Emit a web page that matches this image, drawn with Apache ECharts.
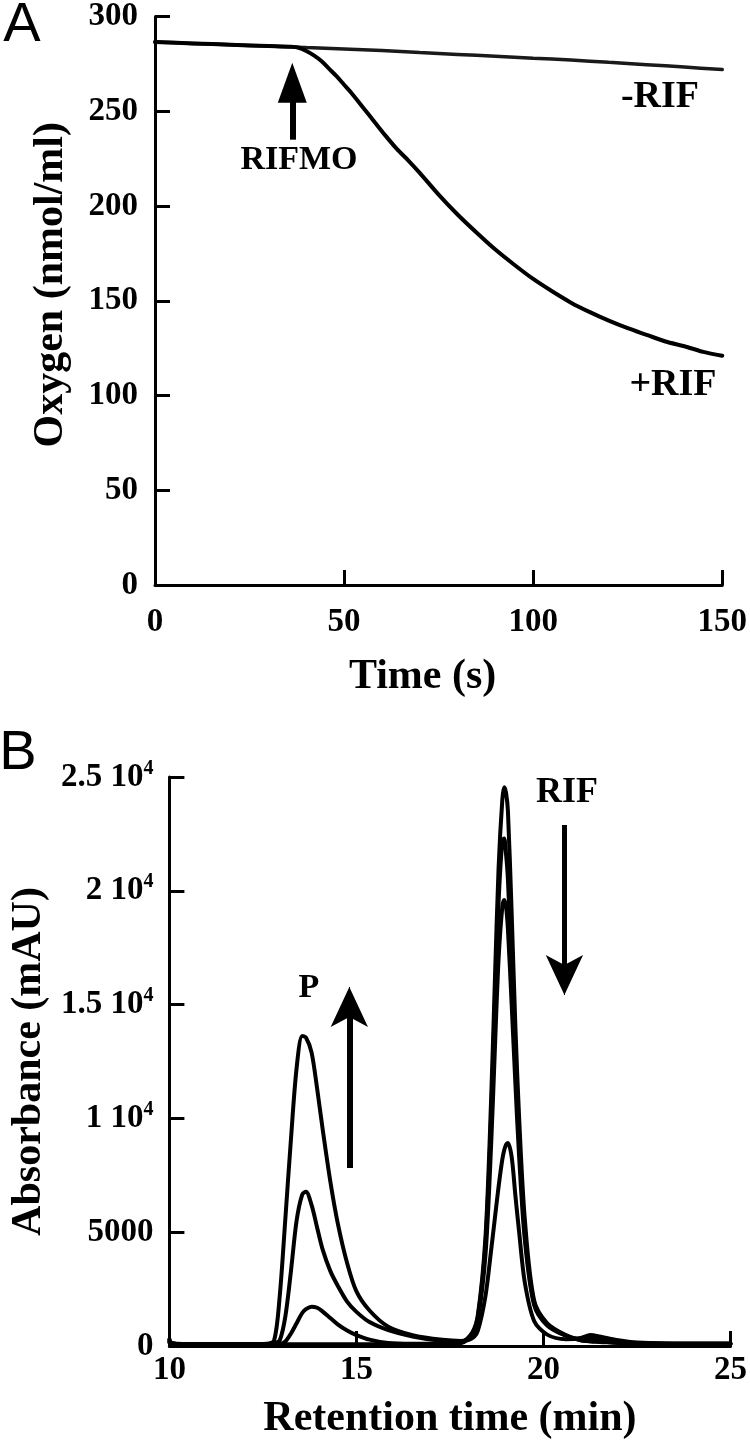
<!DOCTYPE html>
<html>
<head>
<meta charset="utf-8">
<script src="https://cdn.jsdelivr.net/npm/echarts@6/dist/echarts.min.js"></script>
<style>
  html, body { margin: 0; padding: 0; background: #fff; }
  #chart { width: 750px; height: 1449px; }
</style>
</head>
<body>
<div id="chart"></div>
<script>
// panel A: oxygen trace (s, nmol/ml)
const timeMinusRif = [0, 10, 20, 30, 36, 40, 50, 60, 70, 80, 90, 100, 110, 120, 130, 140, 150];
const oxygenMinusRif = [286.5, 285.8, 285.1, 284.4, 284.0, 283.6, 282.9, 282.0, 281.0, 280.0, 279.0, 278.0, 277.0, 275.8, 274.6, 273.3, 272.0];

const timePlusRif = [0, 10, 20, 30, 36, 38, 40, 42, 44, 46, 48, 50, 52, 55, 58, 61, 64, 67, 70, 75,
  80, 85, 90, 95, 100, 105, 110, 115, 120, 125, 130, 135, 140, 145, 150];
const oxygenPlusRif = [286.5, 285.8, 285.1, 284.4, 284.0, 283.5, 281.8, 279.5, 276.5, 272.5, 268.5, 264.0, 259.5, 252.0, 244.5, 237.0, 230.0, 224.0, 217.5, 206.0,
  195.5, 186.0, 177.0, 169.0, 161.5, 155.0, 149.0, 144.0, 139.5, 135.5, 132.0, 128.5, 126.0, 123.0, 121.0];

// panel B: HPLC traces (min, mAU)
const retentionTime = [10.0, 10.05, 10.2, 11.0, 12.0, 12.6, 12.8, 12.95, 13.1, 13.25, 13.4, 13.55, 13.65, 13.8, 13.95, 14.1, 14.3, 14.5, 14.75, 15.0,
  15.35, 15.85, 16.5, 17.3, 17.8, 18.1, 18.25, 18.45, 18.6, 18.7, 18.8, 18.9, 18.95, 19.0, 19.05, 19.15, 19.25, 19.35, 19.5, 19.75,
  20.1, 20.6, 21.0, 21.25, 21.5, 22.0, 22.5, 23.5, 25.0];
const traceNoProduct = [150, 110, 90, 80, 80, 80, 80, 80, 80, 80, 80, 80, 80, 80, 80, 80, 80, 80, 80, 80,
  80, 80, 80, 90, 150, 600, 1400, 4800, 10800, 16000, 21000, 24000, 24550, 24300, 23500, 19000, 14000, 10000, 5600, 2000,
  1000, 480, 250, 200, 180, 130, 100, 100, 100];
const traceLowProduct = [200, 120, 90, 80, 80, 80, 80, 90, 200, 550, 1000, 1450, 1620, 1730, 1680, 1510, 1230, 950, 680, 480,
  280, 130, 100, 100, 130, 550, 1300, 4500, 10000, 15000, 19500, 22200, 22300, 21600, 20500, 16500, 12500, 9000, 5000, 1900,
  950, 450, 250, 220, 200, 150, 120, 100, 100];
const traceMidProduct = [250, 130, 90, 80, 80, 90, 120, 250, 1300, 3300, 5500, 6650, 6780, 6200, 5200, 4220, 3300, 2650, 1950, 1500,
  1050, 700, 420, 220, 180, 500, 1200, 4000, 8800, 13000, 17000, 19300, 19600, 19300, 18300, 15000, 11500, 8300, 4700, 1800,
  900, 450, 300, 350, 320, 200, 130, 100, 100];
const traceHighProduct = [300, 150, 100, 80, 80, 100, 250, 2200, 5600, 9100, 12200, 13620, 13550, 12900, 11300, 9490, 7250, 5400, 3650, 2400,
  1560, 850, 480, 270, 220, 350, 700, 2200, 4200, 5600, 7000, 8200, 8600, 8850, 8920, 8300, 6600, 5000, 2800, 1100,
  500, 300, 350, 480, 420, 250, 150, 100, 100];

// tick labels of the absorbance axis
const absorbanceTicks = [0, 5000, 10000, 15000, 20000, 25000];
const absorbanceLabels = ['0', '5000', '1 10{s|4}', '1.5 10{s|4}', '2 10{s|4}', '2.5 10{s|4}'];

const SERIF = "'Liberation Serif', 'Times New Roman', serif";
const pairs = (xs, ys) => xs.map((x, i) => [x, ys[i]]);

const axisLine = { lineStyle: { color: '#000', width: 3 } };
const axisTick = { inside: true, length: 15, lineStyle: { color: '#000', width: 3 } };
const tickFont = { fontSize: 33, fontWeight: 'bold', fontFamily: SERIF, color: '#000' };
const nameFont = { fontSize: 42, fontWeight: 'bold', fontFamily: SERIF, color: '#000' };

function trace(name, xs, ys, idx, extra) {
  return Object.assign({
    name, type: 'line', xAxisIndex: idx, yAxisIndex: idx,
    data: pairs(xs, ys), showSymbol: false, smooth: 0.3, silent: true,
    lineStyle: { color: '#000', width: 4, cap: 'round', join: 'round' }
  }, extra || {});
}

// arrow in data coordinates: thick shaft up to `neck`, thin segment carrying the head up to `tip`
function arrow(x, tail, neck, tip, head, size, width) {
  return {
    silent: true, symbol: 'none', label: { show: false },
    lineStyle: { type: 'solid', color: '#000', width },
    emphasis: { disabled: true },
    data: [
      [{ coord: [x, tail], symbol: 'none' }, { coord: [x, neck], symbol: 'none' }],
      [{ coord: [x, neck], symbol: 'none', lineStyle: { width: 1, color: '#000' } },
       { coord: [x, tip], symbol: head, symbolSize: size }]
    ]
  };
}

function text(str, x, y, size, family, weight) {
  return {
    type: 'text', x, y, silent: true,
    style: { text: str, fill: '#000', fontSize: size, fontFamily: family || SERIF,
      fontWeight: weight || 'bold', align: 'center', verticalAlign: 'middle' }
  };
}

const chart = echarts.init(document.getElementById('chart'));
chart.setOption({
  animation: false,
  backgroundColor: '#fff',
  grid: [
    { left: 155, top: 15, width: 570, height: 570 },
    { left: 164, top: 777, width: 570, height: 569 }
  ],
  xAxis: [
    {
      gridIndex: 0, type: 'value', min: 0, max: 150, interval: 50,
      axisLine, axisTick, splitLine: { show: false },
      axisLabel: Object.assign({ margin: 21 }, tickFont),
      name: 'Time (s)', nameLocation: 'middle', nameGap: 71,
      nameTextStyle: Object.assign({ padding: [0, 32, 0, 0] }, nameFont)
    },
    {
      gridIndex: 1, type: 'value', min: 10, max: 25, interval: 5,
      axisLine, axisTick, splitLine: { show: false },
      axisLabel: Object.assign({ margin: 8 }, tickFont),
      name: 'Retention time (min)', nameLocation: 'middle', nameGap: 52,
      nameTextStyle: nameFont
    }
  ],
  yAxis: [
    {
      gridIndex: 0, type: 'value', min: 0, max: 300, interval: 50,
      axisLine, axisTick, splitLine: { show: false },
      axisLabel: Object.assign({ margin: 17 }, tickFont),
      name: 'Oxygen (nmol/ml)', nameLocation: 'middle', nameGap: 83,
      nameTextStyle: Object.assign({ padding: [0, 0, 0, 32] }, nameFont)
    },
    {
      gridIndex: 1, type: 'value', min: 0, max: 25000, interval: 5000,
      axisLine, axisTick, splitLine: { show: false },
      axisLabel: Object.assign({
        margin: 16,
        formatter: (v) => absorbanceLabels[absorbanceTicks.indexOf(v)],
        rich: { s: { fontSize: 20, fontWeight: 'bold', fontFamily: SERIF, color: '#000', padding: [0, 0, 17, 0] } }
      }, tickFont),
      name: 'Absorbance (mAU)', nameLocation: 'middle', nameGap: 114,
      nameTextStyle: nameFont
    }
  ],
  series: [
    trace('-RIF', timeMinusRif, oxygenMinusRif, 0, { lineStyle: { color: '#1a1a1a', width: 3.5, cap: 'round' } }),
    trace('+RIF', timePlusRif, oxygenPlusRif, 0, { markLine: arrow(36.3, 235, 255, 265, 'triangle', [29, 40], 6) }),
    trace('t0', retentionTime, traceNoProduct, 1, { markLine: arrow(14.81, 7820, 15250, 15775, 'arrow', [28, 40], 6) }),
    trace('t1', retentionTime, traceLowProduct, 1, { markLine: arrow(20.56, 22890, 15950, 15420, 'arrow', [28, 40], 5) }),
    trace('t2', retentionTime, traceMidProduct, 1),
    trace('t3', retentionTime, traceHighProduct, 1)
  ],
  graphic: [
    text('A', 22, 26, 56, "'Liberation Sans', Arial, sans-serif", 'normal'),
    text('B', 18, 754, 56, "'Liberation Sans', Arial, sans-serif", 'normal'),
    text('RIFMO', 299, 160, 34),
    text('-RIF', 660, 97, 38),
    text('+RIF', 673, 385, 38),
    text('P', 309, 988, 34),
    text('RIF', 567, 793, 36)
  ]
});
</script>
</body>
</html>
